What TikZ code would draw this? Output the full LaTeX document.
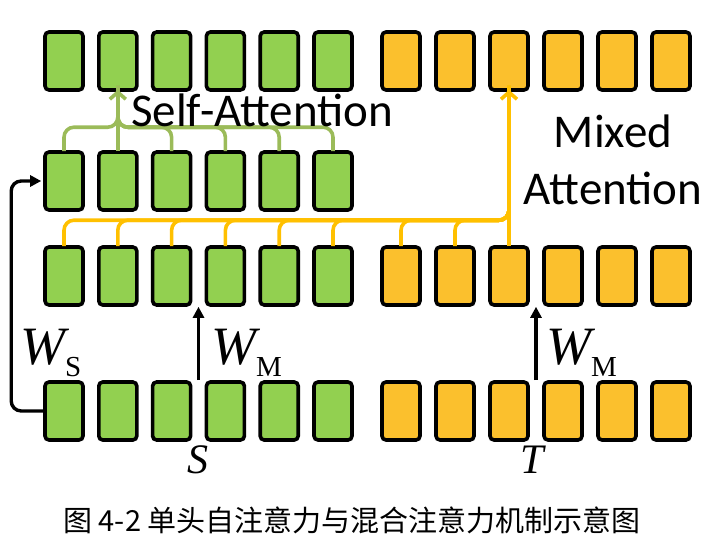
\documentclass[tikz,border=0pt]{standalone}
\usepackage{fontspec}
\setmainfont{Liberation Serif}
\newfontfamily\cjk{Noto Sans CJK SC}
\newfontfamily\calib{Carlito}
\usetikzlibrary{arrows.meta,calc}
\definecolor{gfill}{HTML}{92D050}
\definecolor{ofill}{HTML}{FBC02D}
\definecolor{gline}{HTML}{9BBB59}
\definecolor{oline}{HTML}{FFC000}
\tikzset{
  tok/.style={draw=black,line width=3.6pt,rounded corners=4pt,minimum width=38pt,minimum height=58pt,inner sep=0pt},
  gtok/.style={tok,fill=gfill},
  otok/.style={tok,fill=ofill},
  gconn/.style={draw=gline,line width=3.6pt,rounded corners=10pt},
  oconn/.style={draw=oline,line width=3.6pt,rounded corners=10pt},
  blk/.style={draw=black,line width=3.4pt,-{Triangle[length=11pt,width=11pt]}},
  lab/.style={inner sep=0pt,font=\calib\fontsize{47}{52}\selectfont}
}
\begin{document}
\begin{tikzpicture}[x=1pt,y=-1pt]
\useasboundingbox (0,0) rectangle (712,552);
\foreach \r/\y in {1/61,2/181,3/276,4/411}{
  \foreach \k in {1,...,6}{
    \node[gtok] (g\r\k) at ({64+53.8*(\k-1)},\y) {};
  }
}
\foreach \r/\y in {1/61,3/276,4/411}{
  \foreach \k in {1,...,6}{
    \node[otok] (o\r\k) at ({401+54*(\k-1)},\y) {};
  }
}
% self-attention
\foreach \k in {1,3,4,5,6}{
  \draw[gconn] ([yshift=-1pt]g2\k.north) |- ($(g22.north)+(0,-23)$) -- ([yshift=6pt]g12.south);
}
\draw[draw=gline,line width=3.6pt,-{Straight Barb[length=7pt,width=16pt]}] ([yshift=-1pt]g22.north) -- ([yshift=2pt]g12.south);
% mixed attention
\foreach \n in {g31,g32,g33,g34,g35,g36,o31,o32}{
  \draw[oconn] ([yshift=-1pt]\n.north) |- ($(o33.north)+(0,-25)$) -- ([yshift=6pt]o13.south);
}
\draw[draw=oline,line width=3.6pt,-{Straight Barb[length=7pt,width=16pt]}] ([yshift=-1pt]o33.north) -- ([yshift=2pt]o13.south);
% W_S
\draw[blk,rounded corners=10pt] (g41.west) -- ++(-32,0) |- ([xshift=-2pt]g21.west);
% W_M
\coordinate (s1) at ($(g43.north east)!0.5!(g44.north west)$);
\coordinate (s2) at ($(g33.south east)!0.5!(g34.south west)$);
\draw[blk] (s1) -- (s2);
\coordinate (t1) at ($(o43.north east)!0.5!(o44.north west)$);
\coordinate (t2) at ($(o33.south east)!0.5!(o34.south west)$);
\draw[blk] (t1) -- (t2);
% labels
\node[lab,anchor=west] (sa) at (131,110) {Self-Attention};
\node[lab] (ma1) at (613,131) {Mixed};
\node[lab] (ma2) at (613,188) {Attention};
\node[inner sep=0pt,anchor=base west] (ws) at (20,364) {\fontsize{54}{56}\selectfont\itshape W\raisebox{-12pt}{\fontsize{29}{30}\selectfont\upshape S}};
\node[inner sep=0pt,anchor=base west] (wm1) at (211,364) {\fontsize{54}{56}\selectfont\itshape W\raisebox{-12pt}{\fontsize{29}{30}\selectfont\upshape M}};
\node[inner sep=0pt,anchor=base west] (wm2) at (546,364) {\fontsize{54}{56}\selectfont\itshape W\raisebox{-12pt}{\fontsize{29}{30}\selectfont\upshape M}};
\node[inner sep=0pt,anchor=base] (sl) at (198,473) {\fontsize{42}{44}\selectfont\itshape S};
\node[inner sep=0pt,anchor=base] (tl) at (532,473) {\fontsize{42}{44}\selectfont\itshape T};
\node[inner sep=0pt] (cap) at (352,520) {\cjk\fontsize{29}{30}\selectfont 图 4-2 单头自注意力与混合注意力机制示意图};
\end{tikzpicture}
\end{document}
